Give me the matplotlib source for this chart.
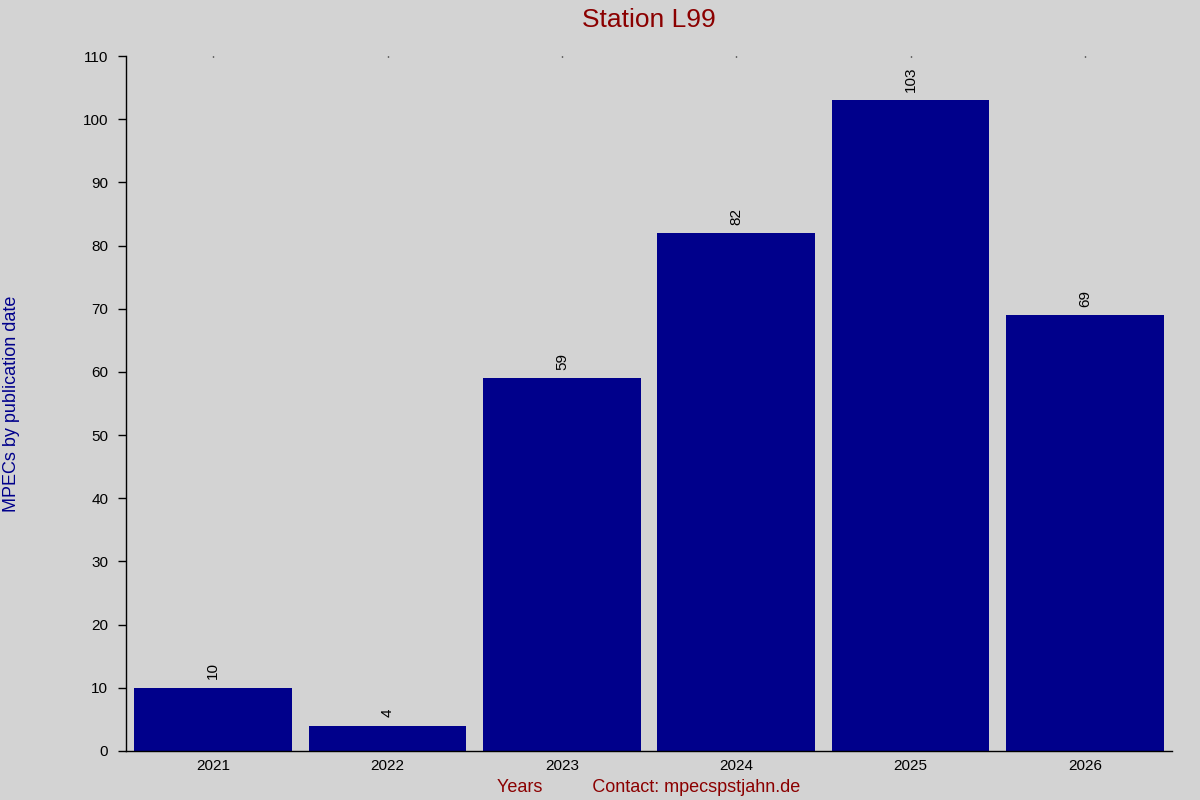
import matplotlib
matplotlib.use('Agg')
import matplotlib.pyplot as plt

# data
years = ['2021', '2022', '2023', '2024', '2025', '2026']
mpecs = [10, 4, 59, 82, 103, 69]
y_ticks = list(range(0, 111, 10))

plt.rcParams['font.family'] = ['Liberation Sans', 'DejaVu Sans']

bg = '#d3d3d3'
fig = plt.figure(figsize=(12, 8), dpi=100, facecolor=bg)
ax = fig.add_axes([0.105, 0.06125, 0.8717, 0.86875])
ax.set_facecolor(bg)

x = list(range(len(years)))
bars = ax.bar(x, mpecs, width=0.905, color='#00008b', zorder=2)

# value labels, rotated, above each bar
for xi, v in zip(x, mpecs):
    ax.annotate(str(v), (xi, v), xytext=(0, 6), textcoords='offset points',
                rotation=90, ha='center', va='bottom', fontsize=11, color='black')

ax.set_xlim(-0.5, len(years) - 0.5)
ax.set_ylim(0, 110)
ax.set_yticks(y_ticks)
ax.set_xticks(x)
ax.set_xticklabels(years)

for s in ['top', 'right']:
    ax.spines[s].set_visible(False)
ax.spines['left'].set_linewidth(1)
ax.spines['bottom'].set_linewidth(1)

ax.tick_params(axis='y', direction='out', length=5.8, width=1, labelsize=11, pad=7)
ax.tick_params(axis='x', bottom=False, top=True, direction='in', length=1, width=1,
               labelsize=11, pad=6)

ax.set_title('Station L99', fontsize=19, color='#8b0000', pad=21)
ax.set_ylabel('MPECs by publication date', fontsize=13, color='#00008b')
ax.yaxis.set_label_coords(-0.1014, 0.5)
ax.set_xlabel('Years' + ' ' * 10 + 'Contact: mpecspstjahn.de', fontsize=13,
              color='#8b0000', labelpad=4)

fig.savefig('out.png', dpi=100, facecolor=bg)
